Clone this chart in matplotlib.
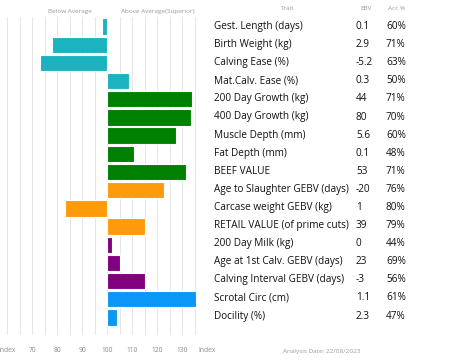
import matplotlib.pyplot as plt

W, H = 453, 362

traits = ["Gest. Length (days)", "Birth Weight (kg)", "Calving Ease (%)", "Mat.Calv. Ease (%)",
          "200 Day Growth (kg)", "400 Day Growth (kg)", "Muscle Depth (mm)", "Fat Depth (mm)",
          "BEEF VALUE", "Age to Slaughter GEBV (days)", "Carcase weight GEBV (kg)",
          "RETAIL VALUE (of prime cuts)", "200 Day Milk (kg)", "Age at 1st Calv. GEBV (days)",
          "Calving Interval GEBV (days)", "Scrotal Circ (cm)", "Docility (%)"]
ebv = ["0.1", "2.9", "-5.2", "0.3", "44", "80", "5.6", "0.1", "53", "-20", "1", "39",
       "0", "23", "-3", "1.1", "2.3"]
acc = ["60%", "71%", "63%", "50%", "71%", "70%", "60%", "48%", "71%", "76%", "80%", "79%",
       "44%", "69%", "56%", "61%", "47%"]
index_vals = [98, 78, 73, 108.5, 134, 133.5, 127.5, 110.5, 131.5, 122.5, 83, 115,
              102, 105, 115, 135.5, 104]
groups = ["teal"] * 4 + ["green"] * 5 + ["orange"] * 3 + ["purple"] * 3 + ["blue"] * 2
group_colors = {"teal": "#1bb3c0", "green": "#008000", "orange": "#ff9a0a",
                "purple": "#800080", "blue": "#0b97f5"}
tick_vals = [60, 70, 80, 90, 100, 110, 120, 130, 140]
tick_labels = ["Index", "70", "80", "90", "100", "110", "120", "130", "Index"]

fig = plt.figure(figsize=(W / 100, H / 100), dpi=100)
fig.patch.set_facecolor("white")

def px(x, y):
    return x / W, 1 - y / H

l, r, t, b = 7.3, 207.3, 17, 335
ax = fig.add_axes([l / W, 1 - b / H, (r - l) / W, (b - t) / H])

n = len(traits)
ypos = list(range(n))
for i in ypos:
    v = index_vals[i]
    ax.barh(i, v - 100, left=100, height=0.9, color=group_colors[groups[i]],
            edgecolor="white", linewidth=0.8, zorder=3)

ax.set_xlim(60, 140)
ax.set_ylim(16.97, -0.53)
for gx in range(60, 141, 5):
    ax.axvline(gx, color="#e6e6e6", linewidth=0.7, zorder=0)
ax.set_xticks(tick_vals)
ax.set_xticklabels(tick_labels, fontsize=4.8, color="#888888", family="Open Sans")
ax.tick_params(axis="x", length=0, pad=9)
ax.set_yticks([])
for s in ax.spines.values():
    s.set_visible(False)

# column headers
hdr = dict(fontsize=4.6, color="#9a9a9a", ha="center", va="center", family="Open Sans")
fig.text(*px(70, 11), "Below Average", **hdr)
fig.text(*px(158, 11), "Above Average(Superior)", **hdr)
fig.text(*px(288, 9), "Trait", **hdr)
fig.text(*px(366, 9), "EBV", **hdr)
fig.text(*px(397, 9), "Acc %", **hdr)

# table rows
for i in ypos:
    y = 26.5 + 18.1 * i
    rowstyle = dict(fontsize=7.2, color="#111111", va="center", ha="left", family="Open Sans")
    fig.text(*px(214, y), traits[i], **rowstyle)
    fig.text(*px(356, y), ebv[i], **rowstyle)
    fig.text(*px(386, y), acc[i], **rowstyle)

fig.text(*px(283, 351), "Analysis Date: 22/08/2023", fontsize=4.6, color="#9a9a9a",
         ha="left", va="center", family="Open Sans")

fig.savefig("out.png", dpi=100)
